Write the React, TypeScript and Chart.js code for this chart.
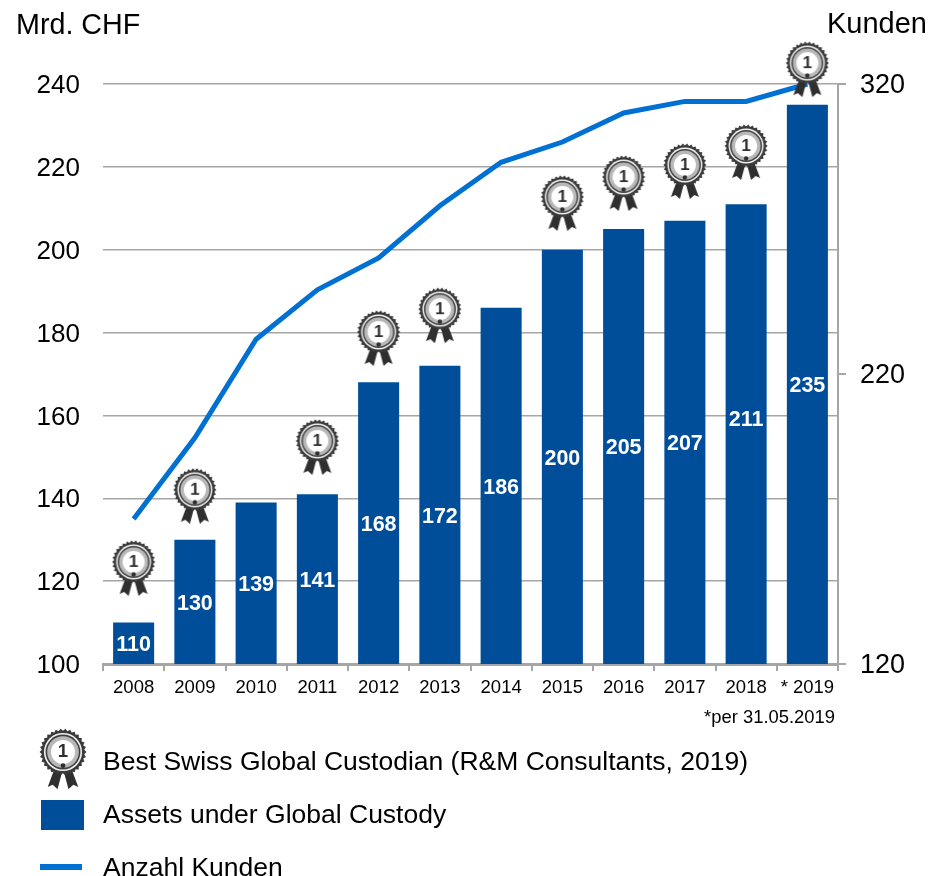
import React, { useEffect, useRef } from "react";
import { Chart, registerables } from "chart.js";

Chart.register(...registerables);

const categories = ["2008", "2009", "2010", "2011", "2012", "2013", "2014", "2015", "2016", "2017", "2018", "* 2019"];
const assets = [110, 130, 139, 141, 168, 172, 186, 200, 205, 207, 211, 235];
const clients = [170, 198, 232, 249, 260, 278, 293, 300, 310, 314, 314, 320];
const medals = [123.2, 140.6, null, 152.4, 178.7, 184.2, null, 211.3, 216.1, 219, 223.6, 243.6];

const BLUE = "#004e9a";
const LINE = "#0070d2";
const GRAY = "#a6a6a6";
const FONT = "'Liberation Sans', Arial, sans-serif";

function drawMedal(c: HTMLCanvasElement, w: number, h: number) {
  c.width = w;
  c.height = h;
  const g = c.getContext("2d")!;
  const k = w / 44;
  g.scale(k, k);
  const cx = 22, cy = 22;
  // ribbons
  g.fillStyle = "#2f2f2f";
  g.beginPath();
  g.moveTo(14, 38); g.lineTo(21, 41); g.lineTo(17, 56); g.lineTo(12.5, 52); g.lineTo(8, 54);
  g.closePath(); g.fill();
  g.beginPath();
  g.moveTo(30, 38); g.lineTo(23, 41); g.lineTo(27, 56); g.lineTo(31.5, 52); g.lineTo(36, 54);
  g.closePath(); g.fill();
  // toothed rim
  g.fillStyle = "#3a3a3a";
  g.beginPath();
  const teeth = 30;
  for (let i = 0; i < teeth * 2; i++) {
    const a = (i * Math.PI) / teeth;
    const r = i % 2 === 0 ? 21.5 : 19.5;
    g.lineTo(cx + r * Math.cos(a), cy + r * Math.sin(a));
  }
  g.closePath(); g.fill();
  const ring = (r: number, col: string) => {
    g.fillStyle = col;
    g.beginPath(); g.arc(cx, cy, r, 0, Math.PI * 2); g.fill();
  };
  ring(17.5, "#f0f0f0");
  ring(16, "#404040");
  ring(14.5, "#b8b8b8");
  ring(11, "#ffffff");
  g.fillStyle = "#2f2f2f";
  g.font = `bold 17px ${FONT}`;
  g.textAlign = "center";
  g.textBaseline = "middle";
  g.fillText("1", cx, cy);
  g.beginPath(); g.arc(cx, cy + 12.5, 2.2, 0, Math.PI * 2); g.fill();
}

const barLabels = {
  id: "barLabels",
  afterDatasetsDraw(chart: any) {
    const meta = chart.getDatasetMeta(0);
    const ctx = chart.ctx;
    const bottom = chart.chartArea.bottom;
    ctx.save();
    ctx.fillStyle = "#ffffff";
    ctx.font = `bold 21.5px ${FONT}`;
    ctx.textAlign = "center";
    ctx.textBaseline = "middle";
    meta.data.forEach((el: any, i: number) => {
      // the 2018 label sits higher in its bar than the others
      const lift = assets[i] === 211 ? 16 : 0;
      ctx.fillText(String(assets[i]), el.x, (el.y + bottom) / 2 + 2 - lift);
    });
    ctx.restore();
  },
};

const textStyle: React.CSSProperties = {
  position: "absolute",
  fontFamily: FONT,
  color: "#000",
  whiteSpace: "nowrap",
  lineHeight: "30px",
  height: 30,
};

// A blank first line with a small line height moves the tick text down 2px.
const lowered = (v: any) => ["", String(v)];

export default function App() {
  const ref = useRef<HTMLCanvasElement>(null);
  const legendMedal = useRef<HTMLCanvasElement>(null);

  useEffect(() => {
    document.body.style.margin = "0";
    const medal = document.createElement("canvas");
    drawMedal(medal, 44, 56);
    if (legendMedal.current) drawMedal(legendMedal.current, 48, 61);
    const chart = new Chart(ref.current!, {
      type: "bar",
      plugins: [barLabels],
      data: {
        labels: categories,
        datasets: [
          {
            type: "bar",
            label: "Assets under Global Custody",
            data: assets,
            backgroundColor: BLUE,
            barPercentage: 0.67,
            categoryPercentage: 1,
            yAxisID: "y",
            order: 3,
          },
          {
            type: "line",
            label: "Anzahl Kunden",
            data: clients,
            borderColor: LINE,
            borderWidth: 5,
            pointRadius: 0,
            tension: 0,
            yAxisID: "y1",
            clip: false,
            order: 2,
          },
          {
            type: "line",
            label: "Best Swiss Global Custodian (R&M Consultants, 2019)",
            data: medals,
            showLine: false,
            pointStyle: medal,
            pointRadius: 22,
            yAxisID: "y",
            clip: false,
            order: 1,
          },
        ] as any,
      },
      options: {
        animation: false,
        responsive: false,
        layout: { padding: { top: 84, bottom: 176, left: 0, right: 0 } },
        plugins: { legend: { display: false }, tooltip: { enabled: false } },
        scales: {
          x: {
            offset: true,
            grid: { drawOnChartArea: false, color: GRAY, lineWidth: 2, tickLength: 7, offset: true },
            border: { color: GRAY, width: 3 },
            ticks: { color: "#000", font: { family: FONT, size: 18.5 }, padding: 6, maxRotation: 0, autoSkip: false },
            afterFit: (s: any) => { s.height = 36; },
          },
          y: {
            position: "left",
            min: 100,
            max: 240,
            grid: { color: GRAY, lineWidth: 1.5, drawTicks: false },
            border: { display: false },
            ticks: { stepSize: 20, color: "#000", font: { family: FONT, size: 26, lineHeight: "4px" }, padding: 23, callback: lowered },
            afterFit: (s: any) => { s.width = 103; },
          },
          y1: {
            position: "right",
            min: 120,
            max: 320,
            grid: { drawOnChartArea: false, color: GRAY, lineWidth: 2, tickLength: 8 },
            border: { color: GRAY, width: 2 },
            ticks: { stepSize: 100, color: "#000", font: { family: FONT, size: 27, lineHeight: "4px" }, padding: 14, callback: lowered },
            afterFit: (s: any) => { s.width = 106; },
          },
        },
      } as any,
    });
    return () => chart.destroy();
  }, []);

  return (
    <div style={{ position: "relative", width: 944, height: 876, overflow: "hidden" }}>
      <canvas ref={ref} width={944} height={876} style={{ position: "absolute", left: 0, top: 0 }} />
      <div style={{ ...textStyle, left: 16, top: 9, fontSize: 28.7 }}>Mrd. CHF</div>
      <div style={{ ...textStyle, right: 17, top: 8, fontSize: 29 }}>Kunden</div>
      <div style={{ ...textStyle, right: 109, top: 702, fontSize: 18.4 }}>*per 31.05.2019</div>
      <canvas ref={legendMedal} style={{ position: "absolute", left: 39, top: 728, width: 48, height: 61 }} />
      <div style={{ ...textStyle, left: 103, top: 746, fontSize: 26.5 }}>Best Swiss Global Custodian (R&amp;M Consultants, 2019)</div>
      <div style={{ position: "absolute", left: 41, top: 800, width: 43, height: 30, background: BLUE }} />
      <div style={{ ...textStyle, left: 103, top: 799, fontSize: 26.5 }}>Assets under Global Custody</div>
      <div style={{ position: "absolute", left: 40, top: 864, width: 42, height: 6, background: LINE }} />
      <div style={{ ...textStyle, left: 103, top: 852, fontSize: 26.5 }}>Anzahl Kunden</div>
    </div>
  );
}
